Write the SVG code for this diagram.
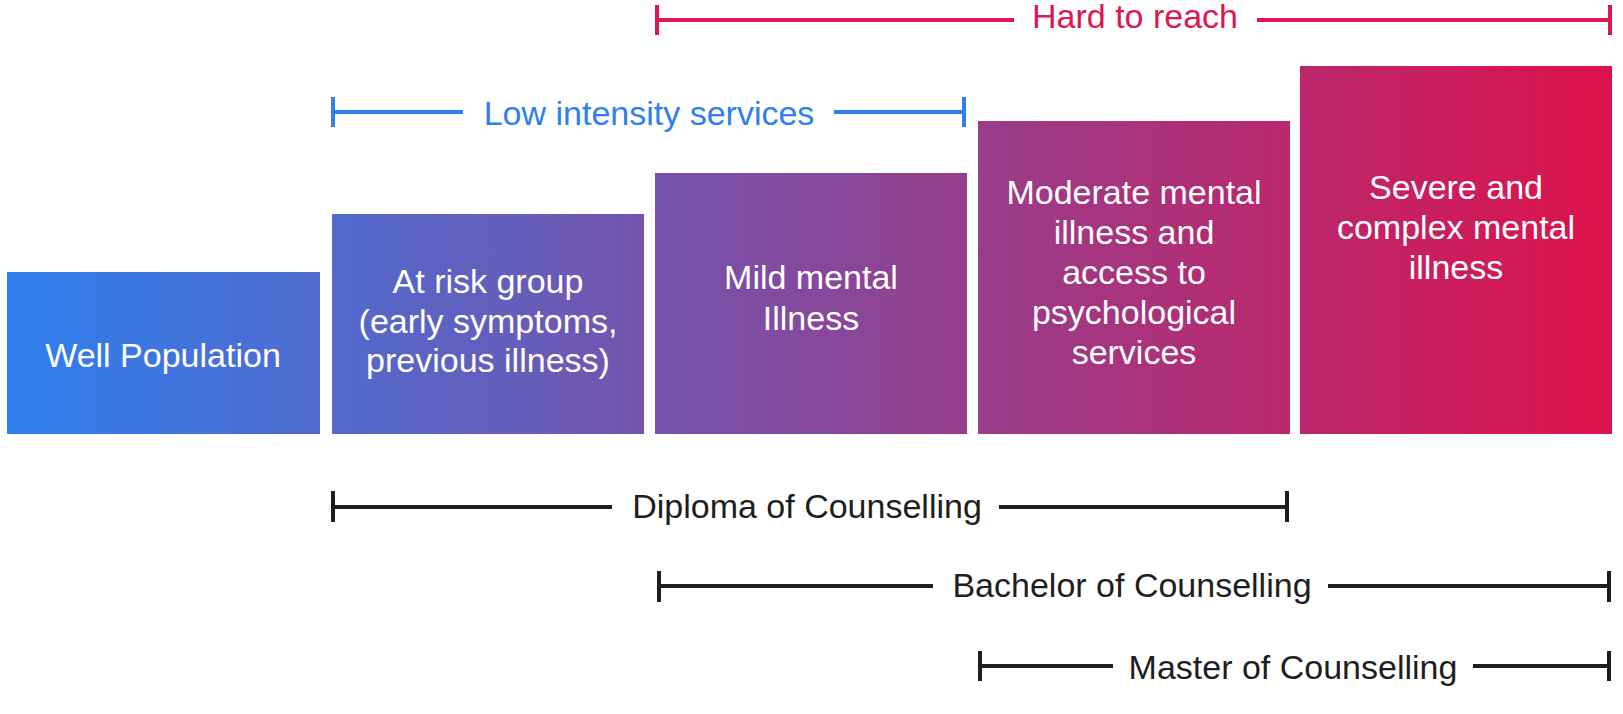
<svg xmlns="http://www.w3.org/2000/svg" width="1623" height="714" viewBox="0 0 1623 714">
<defs>
<linearGradient id="grad" gradientUnits="userSpaceOnUse" x1="7" y1="0" x2="1612" y2="0">
<stop offset="0" stop-color="#2E80EE"/>
<stop offset="1" stop-color="#DD124C"/>
</linearGradient>
<style>
.box{fill:url(#grad);}
.bt{font-family:"Liberation Sans",Arial,sans-serif;font-size:34px;fill:#FFFFFF;text-anchor:middle;}
.lbl{font-family:"Liberation Sans",Arial,sans-serif;font-size:34px;text-anchor:middle;}
.red{stroke:#DC1751;stroke-width:4;fill:none;}
.blue{stroke:#2F80ED;stroke-width:4;fill:none;}
.blk{stroke:#1E1E1E;stroke-width:4;fill:none;}
</style>
</defs>
<rect width="1623" height="714" fill="#FFFFFF"/>
<g id="well">
<rect class="box" x="7" y="272" width="313" height="162"/>
<text class="bt" x="163" y="367">Well Population</text>
</g>
<g id="atrisk">
<rect class="box" x="332" y="214" width="312" height="220"/>
<text class="bt" x="488" y="293">At risk group</text>
<text class="bt" x="488" y="333">(early symptoms,</text>
<text class="bt" x="488" y="372">previous illness)</text>
</g>
<g id="mild">
<rect class="box" x="655" y="173" width="312" height="261"/>
<text class="bt" x="811" y="289">Mild mental</text>
<text class="bt" x="811" y="330">Illness</text>
</g>
<g id="moderate">
<rect class="box" x="978" y="121" width="312" height="313"/>
<text class="bt" x="1134" y="204">Moderate mental</text>
<text class="bt" x="1134" y="244">illness and</text>
<text class="bt" x="1134" y="284">access to</text>
<text class="bt" x="1134" y="324">psychological</text>
<text class="bt" x="1134" y="364">services</text>
</g>
<g id="severe">
<rect class="box" x="1300" y="66" width="312" height="368"/>
<text class="bt" x="1456" y="199">Severe and</text>
<text class="bt" x="1456" y="239">complex mental</text>
<text class="bt" x="1456" y="279">illness</text>
</g>
<g id="connectors">
<g id="hard">
<path class="red" d="M657 5V35M657 20H1014M1257 20H1610M1610 5V35"/>
<text class="lbl" x="1135" y="28" fill="#DC1751">Hard to reach</text>
</g>
<g id="low">
<path class="blue" d="M333 97V127M333 112H463M834 112H964M964 97V127"/>
<text class="lbl" x="649" y="125" fill="#2F80ED">Low intensity services</text>
</g>
<g id="diploma">
<path class="blk" d="M333 491V522M333 507H612M999 507H1287M1287 491V522"/>
<text class="lbl" x="807" y="518" fill="#1E1E1E">Diploma of Counselling</text>
</g>
<g id="bachelor">
<path class="blk" d="M659 571V602M659 586H933M1328 586H1609M1609 571V602"/>
<text class="lbl" x="1132" y="597" fill="#1E1E1E">Bachelor of Counselling</text>
</g>
<g id="master">
<path class="blk" d="M980 651V681M980 666H1113M1473 666H1609M1609 651V681"/>
<text class="lbl" x="1293" y="679" fill="#1E1E1E">Master of Counselling</text>
</g>
</g>
</svg>
